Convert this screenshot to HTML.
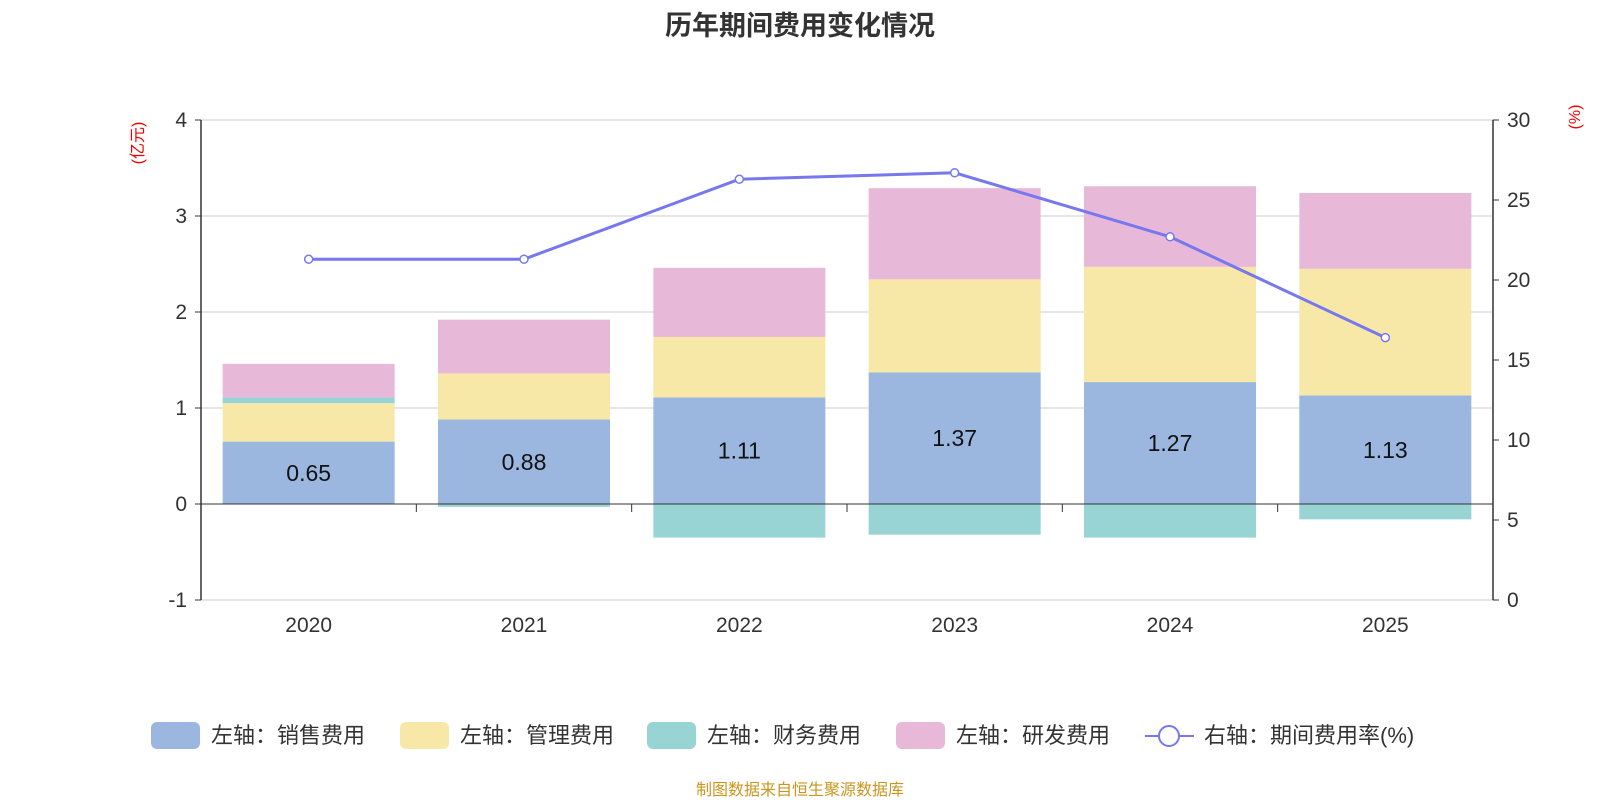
<!DOCTYPE html>
<html><head><meta charset="utf-8"><style>
body{margin:0;background:#fff;}
svg text{font-family:"Liberation Sans","Noto Sans CJK SC",sans-serif;}
</style></head><body>
<svg id="chart" width="1600" height="800" viewBox="0 0 1600 800" xmlns="http://www.w3.org/2000/svg">
<text x="800" y="35" text-anchor="middle" font-size="27" font-weight="bold" fill="#333">历年期间费用变化情况</text>
<text x="143" y="143" text-anchor="middle" font-size="16" fill="#e00" transform="rotate(-90 143 143)">(亿元)</text>
<text x="1580" y="117" text-anchor="middle" font-size="16" fill="#e00" transform="rotate(-90 1580 117)">(%)</text>
<g id="grid"></g><g id="bars"></g><g id="axes"></g><g id="line"></g>
<g id="legend"></g>
<text x="800" y="795" text-anchor="middle" font-size="16" fill="#c8961e">制图数据来自恒生聚源数据库</text>
</svg>
<script>
const categories=['2020','2021','2022','2023','2024','2025'];
const sales=[0.65,0.88,1.11,1.37,1.27,1.13];
const mgmt=[0.40,0.48,0.63,0.97,1.20,1.32];
const finance=[0.06,-0.03,-0.35,-0.32,-0.35,-0.16];
const rnd=[0.35,0.56,0.72,0.95,0.84,0.79];
const rate=[21.3,21.3,26.3,26.7,22.7,16.4];
const leftTicks=[-1,0,1,2,3,4];
const rightTicks=[0,5,10,15,20,25,30];
const NS='http://www.w3.org/2000/svg';
const X0=201,X1=1493,YT=120,YB=600;
const yL=v=>YB-(v+1)/5*(YB-YT);
const yR=v=>YB-v/30*(YB-YT);
const bw=(X1-X0)/categories.length;
const xC=i=>X0+bw*(i+0.5);
function mk(tag,attrs,parent){const e=document.createElementNS(NS,tag);for(const k in attrs)e.setAttribute(k,attrs[k]);document.getElementById(parent).appendChild(e);return e;}
leftTicks.forEach(t=>{
 if(t!==0){const g=mk('line',{x1:X0,x2:X1,y1:yL(t),y2:yL(t),stroke:'#ccc','stroke-width':1},'grid');
 
 }
 const tx=mk('text',{x:X0-14,y:yL(t)+7,'text-anchor':'end','font-size':21,fill:'#333'},'axes');tx.textContent=t;
 
 
 mk('line',{x1:X0-6,x2:X0,y1:yL(t),y2:yL(t),stroke:'#333'},'axes');
});
rightTicks.forEach(t=>{
 const tx=mk('text',{x:X1+14,y:yR(t)+7,'font-size':21,fill:'#333'},'axes');tx.textContent=t;
 
 
 mk('line',{x1:X1,x2:X1+6,y1:yR(t),y2:yR(t),stroke:'#333'},'axes');
});
mk('line',{x1:X0,x2:X0,y1:YT,y2:YB,stroke:'#333','stroke-width':1.5},'axes');
mk('line',{x1:X1,x2:X1,y1:YT,y2:YB,stroke:'#333','stroke-width':1.5},'axes');
mk('line',{x1:X0,x2:X1,y1:yL(0),y2:yL(0),stroke:'#333'},'axes');
categories.forEach((c,i)=>{
 const tx=mk('text',{x:xC(i),y:632,'text-anchor':'middle','font-size':21,fill:'#333'},'axes');tx.textContent=c;
 
 
 if(i>0)mk('line',{x1:X0+bw*i,x2:X0+bw*i,y1:yL(0),y2:yL(0)+8,stroke:'#333'},'axes');
});
const series=[[sales,'#9bb7e0','bar-sales'],[mgmt,'#f8e8a8','bar-management'],[finance,'#98d4d4','bar-finance'],[rnd,'#e8b8d8','bar-rnd']];
categories.forEach((c,i)=>{
 let pos=0,neg=0;
 series.forEach(([arr,col,name])=>{
  const v=arr[i];let a,b;
  if(v>=0){a=pos;b=pos+v;pos=b;}else{a=neg;b=neg+v;neg=b;}
  const top=Math.min(yL(a),yL(b)),h=Math.abs(yL(a)-yL(b));
  const r=mk('rect',{x:xC(i)-86,y:top,width:172,height:h,fill:col},'bars');
  
  
 });
 const t=mk('text',{x:xC(i),y:(yL(0)+yL(sales[i]))/2+8,'text-anchor':'middle','font-size':23,fill:'#111'},'bars');t.textContent=sales[i].toFixed(2);
 
 
});
const pl=mk('polyline',{points:rate.map((v,i)=>xC(i)+','+yR(v)).join(' '),fill:'none',stroke:'#7777ee','stroke-width':3},'line');


rate.forEach((v,i)=>{const p=mk('circle',{cx:xC(i),cy:yR(v),r:4,fill:'#fff',stroke:'#7777ee','stroke-width':1.5},'line');
 
 });
const legend=[['左轴：销售费用','#9bb7e0',151],['左轴：管理费用','#f8e8a8',400],['左轴：财务费用','#98d4d4',647],['左轴：研发费用','#e8b8d8',896]];
legend.forEach(([lab,col,x])=>{
 const r=mk('rect',{x:x,y:722,width:49,height:27,rx:6,fill:col},'legend');
 
 
 const t=mk('text',{x:x+60,y:743,'font-size':22,fill:'#333'},'legend');t.textContent=lab;
 
 
});
mk('line',{x1:1145,x2:1194,y1:736,y2:736,stroke:'#7777ee','stroke-width':2},'legend');
const lc=mk('circle',{cx:1169,cy:736,r:10,fill:'#fff',stroke:'#7777ee','stroke-width':2},'legend');


const lt=mk('text',{x:1204,y:743,'font-size':22,fill:'#333'},'legend');lt.textContent='右轴：期间费用率(%)';


</script>
</body></html>
